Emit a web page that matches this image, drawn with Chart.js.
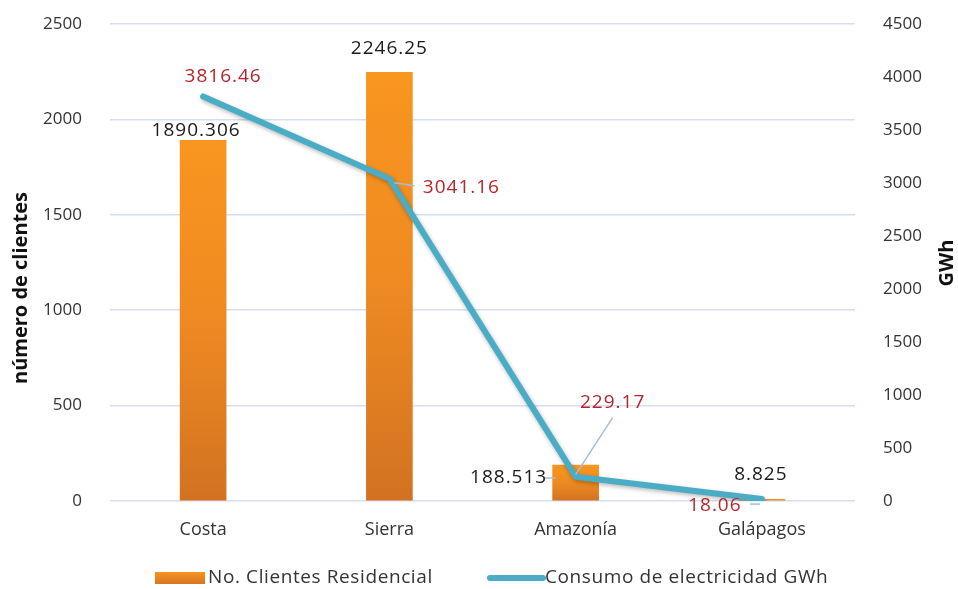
<!DOCTYPE html>
<html><head><meta charset="utf-8">
<script src="https://cdn.jsdelivr.net/npm/chart.js@4/dist/chart.umd.min.js"></script>
<style>html,body{margin:0;padding:0;background:#fff}#wrap{width:958px;height:589px}</style>
</head><body><div id="wrap"><canvas id="c" width="958" height="589"></canvas></div>
<script>
const categories = ['Costa', 'Sierra', 'Amazonía', 'Galápagos'];
const clientes = [1890.306, 2246.25, 188.513, 8.825];
const consumo = [3816.46, 3041.16, 229.17, 18.06];
const clientesLabels = ['1890.306', '2246.25', '188.513', '8.825'];
const consumoLabels = ['3816.46', '3041.16', '229.17', '18.06'];
const leftTicks = [0, 500, 1000, 1500, 2000, 2500];
const rightTicks = [0, 500, 1000, 1500, 2000, 2500, 3000, 3500, 4000, 4500];
const leftTitle = 'número de clientes';
const rightTitle = 'GWh';

// label placement styles (offsets relative to the drawn element; [dx, dy, leader])
const barLabelStyle = [[-7, -10, null], [0, -24, null], [-67, 13, [-32, 13, -20, 13]], [-1, -25, null]];
const lineLabelStyle = [[20, -20, null], [72, 9, [5, 4, 25, 7]], [37, -74, [0, -2, 37, -59]], [-47, 7, [-12, 5, -2, 5]]];

const FONT = "'Open Sans', 'Noto Sans', sans-serif";

const labelPlugin = {
  id: 'labels',
  beforeDatasetDraw(chart, args) {
    if (args.index === 1) {
      const ctx = chart.ctx;
      ctx.save();
      ctx.shadowColor = 'rgba(0,0,0,0.28)';
      ctx.shadowBlur = 4;
      ctx.shadowOffsetY = 2;
      ctx.shadowOffsetX = 1;
    }
  },
  afterDatasetDraw(chart, args) {
    if (args.index === 1) chart.ctx.restore();
  },
  afterDatasetsDraw(chart) {
    const ctx = chart.ctx;
    ctx.save();
    ctx.font = "19px " + FONT;
    ctx.textAlign = 'center';
    ctx.textBaseline = 'middle';
    try { ctx.letterSpacing = '1px'; } catch (e) {}
    const draw = (dsIndex, texts, styles, color) => {
      const meta = chart.getDatasetMeta(dsIndex);
      meta.data.forEach((el, i) => {
        const x = el.x, y = el.y;
        const s = styles[i];
        if (s[2]) {
          ctx.strokeStyle = '#A6BDD7';
          ctx.lineWidth = 1.5;
          ctx.beginPath();
          ctx.moveTo(x + s[2][0], y + s[2][1]);
          ctx.lineTo(x + s[2][2], y + s[2][3]);
          ctx.stroke();
        }
        ctx.fillStyle = color;
        ctx.fillText(texts[i], x + s[0], y + s[1]);
      });
    };
    draw(0, clientesLabels, barLabelStyle, '#1a1a1a');
    draw(1, consumoLabels, lineLabelStyle, '#B3262C');
    ctx.restore();
  },
  afterDraw(chart) {
    const ctx = chart.ctx;
    ctx.save();
    // axis titles
    ctx.font = "bold 20px " + FONT;
    ctx.fillStyle = '#111';
    ctx.textAlign = 'center';
    ctx.textBaseline = 'middle';
    ctx.save();
    ctx.translate(21, 288);
    ctx.rotate(-Math.PI / 2);
    ctx.fillText(leftTitle, 0, 0);
    ctx.restore();
    ctx.save();
    ctx.translate(947, 263);
    ctx.rotate(-Math.PI / 2);
    ctx.fillText(rightTitle, 0, 0);
    ctx.restore();

    // legend
    const y = 578;
    ctx.font = "19px " + FONT;
    try { ctx.letterSpacing = '0.6px'; } catch (e) {}
    ctx.textAlign = 'left';
    const g = ctx.createLinearGradient(0, y - 6, 0, y + 6);
    g.addColorStop(0, '#F7941E');
    g.addColorStop(1, '#D67621');
    ctx.fillStyle = g;
    ctx.fillRect(155, y - 6, 50, 12);
    ctx.fillStyle = '#333';
    ctx.fillText(chart.data.datasets[0].label, 208, y);
    ctx.strokeStyle = '#4BACC6';
    ctx.lineWidth = 6;
    ctx.lineCap = 'round';
    ctx.beginPath();
    ctx.moveTo(490, y);
    ctx.lineTo(543, y);
    ctx.stroke();
    ctx.fillText(chart.data.datasets[1].label, 545, y);
    ctx.restore();
  }
};

const plain = v => String(v);

new Chart(document.getElementById('c'), {
  type: 'bar',
  data: {
    labels: categories,
    datasets: [
      {
        type: 'bar',
        label: 'No. Clientes Residencial',
        data: clientes,
        yAxisID: 'y',
        order: 2,
        barThickness: 46,
        backgroundColor(ctx) {
          const ca = ctx.chart.chartArea;
          const ys = ctx.chart.scales && ctx.chart.scales.y;
          if (!ca || !ys || ctx.raw === undefined) return '#F08A24';
          const top = ys.getPixelForValue(ctx.raw);
          const base = ys.getPixelForValue(0);
          const g = ctx.chart.ctx.createLinearGradient(0, top, 0, base + 0.01);
          g.addColorStop(0, '#F8961F');
          g.addColorStop(0.5, '#EE8A22');
          g.addColorStop(1, '#D27221');
          return g;
        },
        borderWidth: 0
      },
      {
        type: 'line',
        label: 'Consumo de electricidad GWh',
        data: consumo,
        yAxisID: 'y1',
        order: 1,
        borderColor: '#4BACC6',
        borderWidth: 6,
        pointRadius: 0,
        tension: 0,
        fill: false,
        borderCapStyle: 'round',
        borderJoinStyle: 'round'
      }
    ]
  },
  options: {
    responsive: false,
    animation: false,
    devicePixelRatio: 1,
    layout: { padding: { top: 24, bottom: 0, left: 0, right: 0 } },
    plugins: { legend: { display: false }, tooltip: { enabled: false } },
    scales: {
      x: {
        grid: { display: false, drawTicks: false },
        border: { display: false },
        ticks: { color: '#333', font: { family: FONT, size: 18 }, padding: 18 },
        afterFit(s) { s.height = 88; s.paddingLeft = 0; s.paddingRight = 0; }
      },
      y: {
        position: 'left',
        min: 0, max: 2500,
        afterBuildTicks(s) { s.ticks = leftTicks.map(v => ({ value: v })); },
        grid: { color: '#D5DEEC', lineWidth: 1.5, drawTicks: false },
        border: { display: false },
        ticks: { color: '#333', font: { family: FONT, size: 17 }, padding: 28, callback: plain },
        afterFit(s) { s.width = 110; s.paddingTop = 0; s.paddingBottom = 0; }
      },
      y1: {
        position: 'right',
        min: 0, max: 4500,
        afterBuildTicks(s) { s.ticks = rightTicks.map(v => ({ value: v })); },
        grid: { display: false, drawTicks: false },
        border: { display: false },
        ticks: { color: '#333', font: { family: FONT, size: 17 }, padding: 28, callback: plain },
        afterFit(s) { s.width = 103; s.paddingTop = 0; s.paddingBottom = 0; }
      }
    }
  },
  plugins: [labelPlugin]
});
</script>
</body></html>
